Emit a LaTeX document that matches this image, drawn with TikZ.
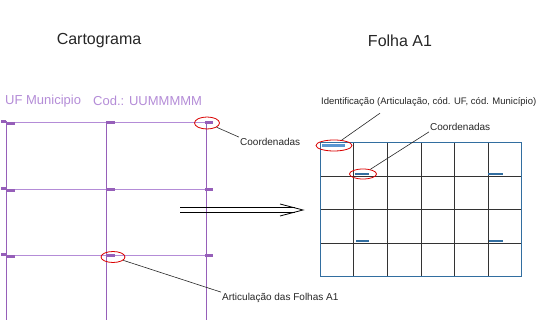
\documentclass[tikz,border=0pt]{standalone}
\usepackage{fontspec}
\setmainfont{Liberation Sans}
\usetikzlibrary{shapes}
\usetikzlibrary{arrows.meta}
\usetikzlibrary{positioning}
\definecolor{roxo}{RGB}{150,95,185}
\definecolor{roxoclaro}{RGB}{180,140,215}
\definecolor{azul}{RGB}{50,110,160}
\definecolor{azulclaro}{RGB}{90,150,210}
\tikzstyle{titulo}=[font=\fontsize{16}{18}\selectfont,text=black!85]
\tikzstyle{rotulo}=[font=\fontsize{10}{12}\selectfont,text=black!85,inner sep=1pt]
\tikzstyle{codigo}=[font=\fontsize{13}{15}\selectfont,text=roxoclaro,inner sep=0pt,anchor=west]
\tikzstyle{marca}=[ellipse,draw=red!85!black,line width=0.8pt,inner sep=0pt]
\tikzstyle{grade}=[draw=roxo,line width=0.9pt]
\tikzstyle{folha}=[draw=black!80,line width=0.9pt]
\tikzstyle{ligacao}=[black!85,line width=0.6pt]
\tikzstyle{seta}=[black,line width=0.8pt]

\begin{document}
\begin{tikzpicture}[x=1pt,y=-1pt]
\useasboundingbox (0,0) rectangle (539,320);
\node[titulo] (cart) at (99,41) {Cartograma};
\node[titulo] (folha) at (400,41) {Folha A1};
%Cartograma
\node[codigo] (uf) at (5,101) {UF Municipio};
\node[codigo] (cod) at (93,101) {Cod.: UUMMMMM};
\foreach \y in {122,189,255} \draw[grade,draw=roxoclaro] (6,\y) -- (206,\y);
\foreach \x in {6,106,206} \draw[grade] (\x,121) -- (\x,320);
\foreach \y in {122,189,255} {
  \fill[roxo] (1,\y-2) rectangle (6,\y+1);
  \fill[roxo] (7,\y) rectangle (15,\y+3);
  \fill[roxo] (106,\y-1) rectangle (115,\y+2);
  \fill[roxo] (205,\y-1) rectangle (213,\y+2);
}
\node[marca,minimum width=25pt,minimum height=12pt] (m1) at (207,123) {};
\node[marca,minimum width=24pt,minimum height=11pt] (m2) at (113,257) {};
\node[rotulo,anchor=west] (coord1) at (239,142) {Coordenadas};
\node[rotulo,anchor=west] (artic) at (221,298) {Articulação das Folhas A1};
\draw[ligacao] (m1) -- (coord1.north west);
\draw[ligacao] (m2) -- (artic.north west);
%Seta
\coordinate (a0) at (180,210);
\coordinate (a1) at (303,210);
\draw[seta] ([yshift=2.4pt]a0) -- ([yshift=2.4pt,xshift=-8pt]a1);
\draw[seta] ([yshift=-2.4pt]a0) -- ([yshift=-2.4pt,xshift=-8pt]a1);
\draw[seta] ([xshift=-23pt,yshift=6pt]a1) -- (a1) -- ([xshift=-23pt,yshift=-6pt]a1);
%Folha A1
\foreach \x in {353,387,421,454,488} \draw[folha] (\x,143) -- (\x,277);
\foreach \y in {176,209.5,243} \draw[folha] (320,\y) -- (521,\y);
\draw[azul,line width=1pt] (320,143) rectangle (521,277);
\fill[azulclaro] (322,144) rectangle (345,147);
\fill[azul] (355,173) rectangle (369,175);
\fill[azul] (488,173) rectangle (503,175);
\fill[azul] (356,240) rectangle (369,242);
\fill[azul] (489,240) rectangle (503,242);
\node[marca,minimum width=36pt,minimum height=11pt] (m3) at (334,145.5) {};
\node[marca,minimum width=27pt,minimum height=10pt] (m4) at (363,174) {};
\node[rotulo,anchor=west,font=\fontsize{9.5}{11}\selectfont] (ident) at (320,102.5) {Identificação (Articulação, cód. UF, cód. Município)};
\node[rotulo,anchor=west] (coord2) at (429,127) {Coordenadas};
\draw[ligacao] (m3) -- ([xshift=60pt,yshift=-5pt]ident.south west);
\draw[ligacao] (m4) -- (coord2.south west);
\end{tikzpicture}
\end{document}
